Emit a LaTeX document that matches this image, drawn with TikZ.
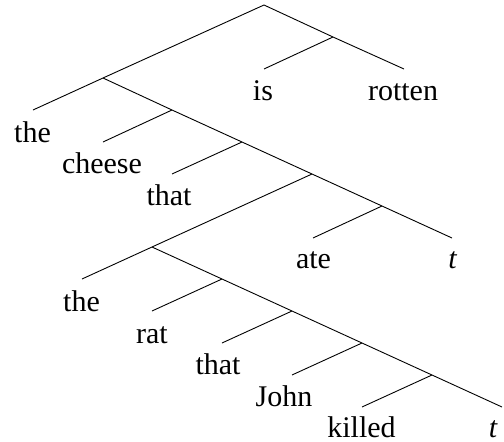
\documentclass[tikz,border=0pt]{standalone}
\usepackage{fontspec}
\setmainfont{Liberation Serif}
\begin{document}
\begin{tikzpicture}[x=1pt,y=-1pt,
  edge/.style={line width=0.9pt},
  word/.style={anchor=base,inner sep=0pt,font=\fontsize{30}{36}\selectfont}]
\useasboundingbox (0,0) rectangle (504,442);
\clip (0,0) rectangle (504,442);
% tree nodes
\coordinate (S)    at (264,5);
\coordinate (VP1)  at (333,37);
\coordinate (is)   at (264,69);
\coordinate (rot)  at (404,69);
\coordinate (NP1)  at (103,78);
\coordinate (the1) at (33,110);
\coordinate (N1)   at (172,110);
\coordinate (ch)   at (103,142);
\coordinate (C1)   at (242,142);
\coordinate (th1)  at (172,174);
\coordinate (S2)   at (312,174);
\coordinate (VP2)  at (382,206);
\coordinate (ate)  at (313,238);
\coordinate (t1)   at (452,238);
\coordinate (NP2)  at (152,247);
\coordinate (the2) at (82,279);
\coordinate (N2)   at (222,279);
\coordinate (rat)  at (152,311);
\coordinate (C2)   at (292,311);
\coordinate (th2)  at (222,343);
\coordinate (S3)   at (362,343);
\coordinate (jo)   at (292,375);
\coordinate (VP3)  at (432,375);
\coordinate (ki)   at (362,407);
\coordinate (t2)   at (502,407);
% edges
\draw[edge] (the1) -- (NP1) -- (S) -- (VP1) -- (rot);
\draw[edge] (VP1) -- (is);
\draw[edge] (NP1) -- (N1) -- (C1) -- (S2) -- (VP2) -- (t1);
\draw[edge] (N1) -- (ch);
\draw[edge] (C1) -- (th1);
\draw[edge] (VP2) -- (ate);
\draw[edge] (S2) -- (NP2) -- (the2);
\draw[edge] (NP2) -- (N2) -- (C2) -- (S3) -- (VP3) -- (t2);
\draw[edge] (N2) -- (rat);
\draw[edge] (C2) -- (th2);
\draw[edge] (S3) -- (jo);
\draw[edge] (VP3) -- (ki);
% words
\node[word] (wthe1) at (32.5,142) {the};
\node[word] (wis)   at (263,100) {is};
\node[word] (wrot)  at (403,100) {rotten};
\node[word] (wch)   at (102,173) {cheese};
\node[word] (wth1)  at (169,205) {that};
\node[word] (wate)  at (313.5,268) {ate};
\node[word] (wt1)   at (452.5,268) {\itshape t};
\node[word] (wthe2) at (81.5,311) {the};
\node[word] (wrat)  at (152,343) {rat};
\node[word] (wth2)  at (218,374) {that};
\node[word] (wjo)   at (284,406) {John};
\node[word] (wki)   at (361.5,437) {killed};
\node[word] (wt2)   at (493,437) {\itshape t};
\end{tikzpicture}
\end{document}
